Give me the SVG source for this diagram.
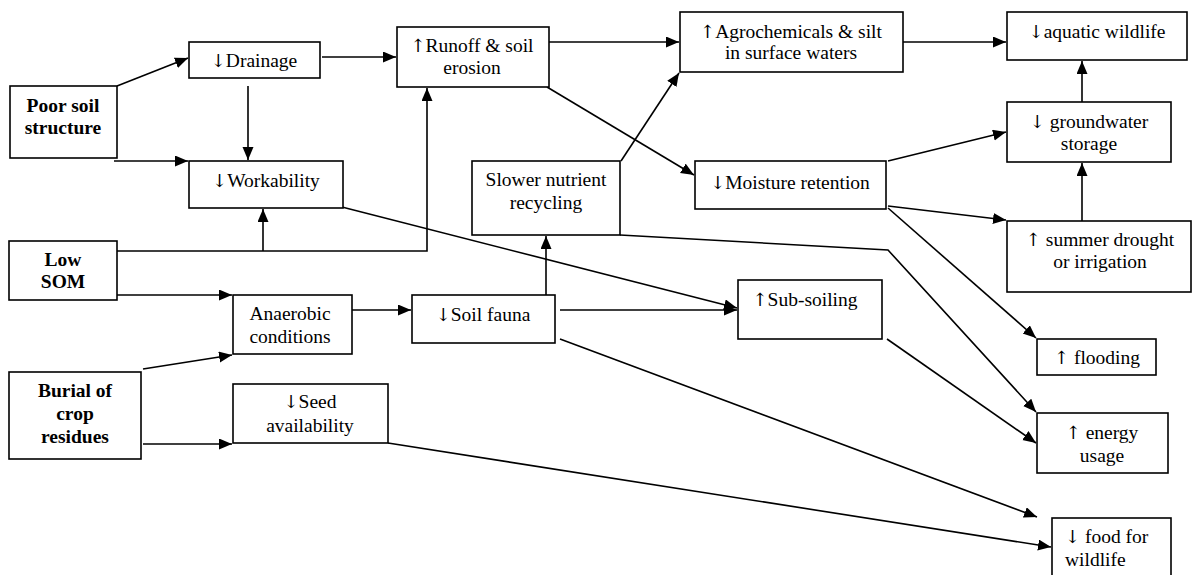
<svg xmlns="http://www.w3.org/2000/svg" width="1193" height="575" viewBox="0 0 1193 575">
<style>
.box{fill:#fff;stroke:#000;stroke-width:1.6}
text{font-family:'Liberation Serif','Times New Roman','DejaVu Serif',serif;font-size:19.5px;fill:#000;text-anchor:middle}
.a{font-family:'DejaVu Serif','DejaVu Sans',serif;font-size:18px;fill:#000}
.b{font-weight:bold}
.l{text-anchor:start}
.c{fill:none;stroke:#000;stroke-width:1.6}
</style>
<defs>
<marker id="ah" markerUnits="userSpaceOnUse" markerWidth="14" markerHeight="12" refX="13" refY="5.5" orient="auto">
<path d="M0,0 L13,5.5 L0,11 z" fill="#000"/>
</marker>
</defs>
<rect width="1193" height="575" fill="#fff"/>
<g id="connectors">
<path class="c" d="M117,86 L188,58" marker-end="url(#ah)"/>
<path class="c" d="M248,86 L248,160" marker-end="url(#ah)"/>
<path class="c" d="M114,161 L188,161" marker-end="url(#ah)"/>
<path class="c" d="M322,57 L396,57" marker-end="url(#ah)"/>
<path class="c" d="M117,251 L427,251 L427,88" marker-end="url(#ah)"/>
<path class="c" d="M263,251 L263,209" marker-end="url(#ah)"/>
<path class="c" d="M117,295 L232,295" marker-end="url(#ah)"/>
<path class="c" d="M143,369 L232,355" marker-end="url(#ah)"/>
<path class="c" d="M143,444 L232,444" marker-end="url(#ah)"/>
<path class="c" d="M352,310 L411,310" marker-end="url(#ah)"/>
<path class="c" d="M546,295 L546,236" marker-end="url(#ah)"/>
<path class="c" d="M560,310 L737,310" marker-end="url(#ah)"/>
<path class="c" d="M338,206 L737,308" marker-end="url(#ah)"/>
<path class="c" d="M560,339 L1037,517" marker-end="url(#ah)"/>
<path class="c" d="M388,443 L1051,547" marker-end="url(#ah)"/>
<path class="c" d="M621,161 L679,73" marker-end="url(#ah)"/>
<path class="c" d="M545,42 L679,42" marker-end="url(#ah)"/>
<path class="c" d="M547,87 L694,175" marker-end="url(#ah)"/>
<path class="c" d="M903,42 L1006,42" marker-end="url(#ah)"/>
<path class="c" d="M888,161 L1006,132" marker-end="url(#ah)"/>
<path class="c" d="M1082,102 L1082,61" marker-end="url(#ah)"/>
<path class="c" d="M1082,221 L1082,163" marker-end="url(#ah)"/>
<path class="c" d="M888,206 L1006,220" marker-end="url(#ah)"/>
<path class="c" d="M888,208 L1036,338" marker-end="url(#ah)"/>
<path class="c" d="M620,235 L888,250 L1036,412" marker-end="url(#ah)"/>
<path class="c" d="M887,339 L1036,443" marker-end="url(#ah)"/>
</g>
<g id="poor-soil"><rect class="box" x="10" y="86" width="107" height="72"/><text class="b" x="63" y="112">Poor soil</text><text class="b" x="63" y="134">structure</text></g>
<g id="low-som"><rect class="box" x="9" y="241" width="108" height="59"/><text class="b" x="63" y="266">Low</text><text class="b" x="63" y="288">SOM</text></g>
<g id="burial"><rect class="box" x="9" y="372" width="132" height="87"/><text class="b" x="75" y="397">Burial of</text><text class="b" x="75" y="420">crop</text><text class="b" x="75" y="443">residues</text></g>
<g id="drainage"><rect class="box" x="189" y="42" width="131" height="36"/><text x="254" y="67"><tspan class="a">↓</tspan>Drainage</text></g>
<g id="workability"><rect class="box" x="189" y="161" width="154" height="47"/><text x="266" y="187"><tspan class="a">↓</tspan>Workability</text></g>
<g id="runoff"><rect class="box" x="397" y="27" width="152" height="60"/><text x="472" y="52"><tspan class="a">↑</tspan>Runoff &amp; soil</text><text x="472" y="74">erosion</text></g>
<g id="agrochemicals"><rect class="box" x="680" y="12" width="223" height="60"/><text x="791" y="38"><tspan class="a">↑</tspan>Agrochemicals &amp; silt</text><text x="791" y="59">in surface waters</text></g>
<g id="aquatic"><rect class="box" x="1007" y="12" width="180" height="48"/><text x="1097" y="38"><tspan class="a">↓</tspan>aquatic wildlife</text></g>
<g id="groundwater"><rect class="box" x="1007" y="102" width="164" height="60"/><text x="1089" y="128"><tspan class="a">↓</tspan> groundwater</text><text x="1089" y="150">storage</text></g>
<g id="slower"><rect class="box" x="472" y="161" width="148" height="74"/><text x="546" y="186">Slower nutrient</text><text x="546" y="209">recycling</text></g>
<g id="moisture"><rect class="box" x="695" y="161" width="191" height="48"/><text x="790" y="189"><tspan class="a">↓</tspan>Moisture retention</text></g>
<g id="summer"><rect class="box" x="1007" y="221" width="184" height="71"/><text x="1100" y="246"><tspan class="a">↑</tspan> summer drought</text><text x="1100" y="268">or irrigation</text></g>
<g id="anaerobic"><rect class="box" x="233" y="295" width="119" height="59"/><text x="290" y="320">Anaerobic</text><text x="290" y="343">conditions</text></g>
<g id="soil-fauna"><rect class="box" x="412" y="295" width="143" height="48"/><text x="483" y="321"><tspan class="a">↓</tspan>Soil fauna</text></g>
<g id="sub-soiling"><rect class="box" x="738" y="280" width="144" height="59"/><text x="805" y="306"><tspan class="a">↑</tspan>Sub-soiling</text></g>
<g id="flooding"><rect class="box" x="1037" y="339" width="119" height="36"/><text x="1097" y="364"><tspan class="a">↑</tspan> flooding</text></g>
<g id="seed"><rect class="box" x="233" y="384" width="155" height="59"/><text x="310" y="408"><tspan class="a">↓</tspan>Seed</text><text x="310" y="432">availability</text></g>
<g id="energy"><rect class="box" x="1037" y="413" width="131" height="60"/><text x="1102" y="439"><tspan class="a">↑</tspan> energy</text><text x="1102" y="462">usage</text></g>
<g id="food"><rect class="box" x="1052" y="518" width="119" height="62"/><text class="l" x="1065" y="543"><tspan class="a">↓</tspan> food for</text><text class="l" x="1065" y="566">wildlife</text></g>
</svg>
